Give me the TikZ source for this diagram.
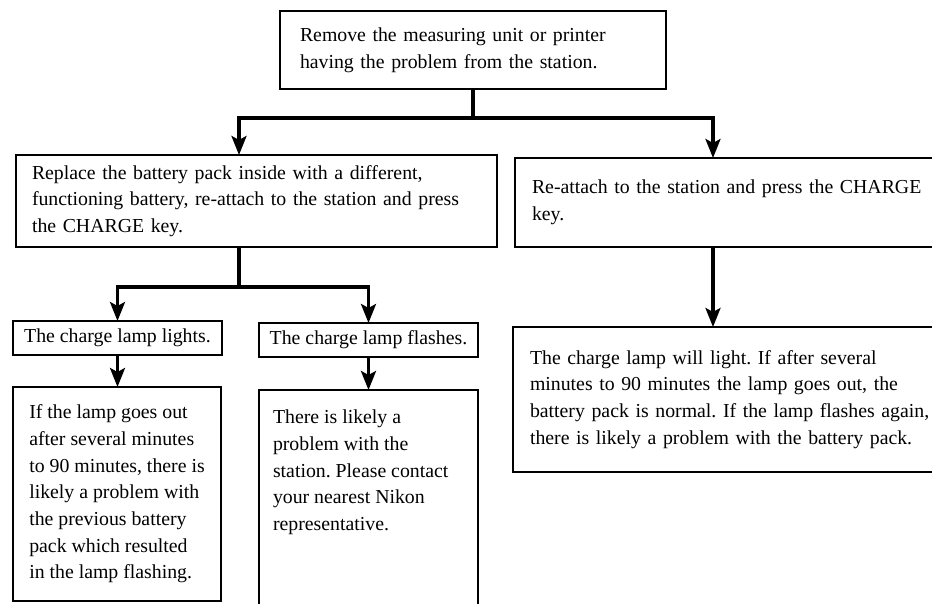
\documentclass[tikz,border=0pt]{standalone}
\usepackage{fontspec}
\setmainfont{Liberation Serif}
\usetikzlibrary{positioning,arrows.meta}

\begin{document}
\begin{tikzpicture}[x=1pt,y=1pt,
 box/.style={draw,line width=1.3pt,outer sep=0pt,anchor=north west,align=left,
  inner sep=0pt,font=\fontsize{19.8}{26.7}\selectfont\frenchspacing},
 flow/.style={line width=3.2pt,-{Stealth[length=19pt,width=15pt,inset=4pt]}}]
 \useasboundingbox (0,0) rectangle (932,-604);
 % first step
 \node[box,inner xsep=20pt,text width=346pt,minimum height=78pt] (remove) at (280,-11)
  {Remove the measuring unit or printer\\having the problem from the station.};
 \node[box,inner xsep=16pt,text width=449pt,minimum height=92pt] (replace) at (16,-155)
  {Replace the battery pack inside with a different,\\functioning battery, re-attach to the station and press\\the CHARGE key.};
 \node[box,inner xsep=17pt,text width=420pt,minimum height=89pt] (reattach)
  [right=18pt of replace.north east,anchor=north west,yshift=-3pt]
  {Re-attach to the station and press the CHARGE\\key.};
 % new battery
 \node[box,minimum width=209pt,minimum height=34pt] (lights) at (13,-321) {The charge lamp lights.};
 \node[box,minimum width=219pt,minimum height=34pt] (flashes) at (259,-323) {The charge lamp flashes.};
 \node[box,minimum width=208pt,minimum height=214pt] (lightsnote) [below=32pt of lights.south west,anchor=north west]
  {If the lamp goes out\\after several minutes\\to 90 minutes, there is\\likely a problem with\\the previous battery\\pack which resulted\\in the lamp flashing.};
 \node[box,inner xsep=14pt,inner ysep=20pt] (flashesnote) [below=33pt of flashes.south west,anchor=north west]
  {\parbox[t][220pt][t]{191pt}{There is likely a\\problem with the\\station. Please contact\\your nearest Nikon\\representative.}};
 % same battery
 \node[box,inner xsep=17pt,text width=420pt,minimum height=145pt] (result)
  [below=80pt of reattach.south west,anchor=north west,xshift=-2pt]
  {The charge lamp will light. If after several\\minutes to 90 minutes the lamp goes out, the\\battery pack is normal. If the lamp flashes again,\\there is likely a problem with the battery pack.\\[5pt]};
 \coordinate (fork) at ([yshift=-29pt]remove.south);
 \coordinate (replaceIn) at ([xshift=223pt]replace.north west);
 \coordinate (reattachIn) at ([xshift=198pt]reattach.north west);
 \coordinate (replaceOut) at ([xshift=223pt]replace.south west);
 \coordinate (split) at ([yshift=-40pt]replaceOut);
 \draw[flow] (remove.south) -- (fork) -| (replaceIn);
 \draw[flow] (remove.south) -- (fork) -| (reattachIn);
 \draw[flow] (replaceOut) -- (split) -| (lights.north);
 \draw[flow] (replaceOut) -- (split) -| (flashes.north);
 \draw[flow] (lights.south) -- (lights.south |- lightsnote.north);
 \draw[flow] (flashes.south) -- (flashes.south |- flashesnote.north);
 \draw[flow] (reattachIn |- reattach.south) -- (reattachIn |- result.north);
\end{tikzpicture}
\end{document}
